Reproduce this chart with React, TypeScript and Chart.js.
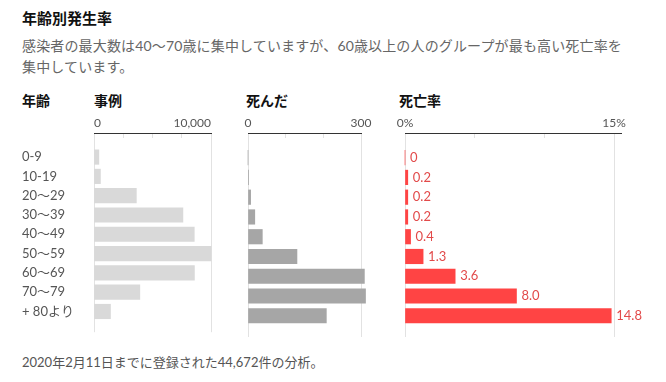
import React, { useEffect, useRef } from 'react';
import { Chart, registerables } from 'chart.js';

Chart.register(...registerables);

// ---- data ----
const ageGroups = ['0-9', '10-19', '20～29', '30～39', '40～49', '50～59', '60～69', '70～79', '+ 80より'];
const cases = [416, 549, 3619, 7600, 8571, 10008, 8583, 3918, 1408];
const deaths = [0, 1, 7, 18, 38, 130, 309, 312, 208];
const fatality = [0, 0.2, 0.2, 0.2, 0.4, 1.3, 3.6, 8.0, 14.8];

const casesTicks = [0, 2500, 5000, 7500, 10000];
const casesTickLabels = ['0', '', '', '', '10,000'];
const deathsTicks = [0, 100, 200, 300];
const deathsTickLabels = ['0', '', '', '300'];
const fatalityTicks = [0, 5, 10, 15];
const fatalityTickLabels = ['0%', '', '', '15%'];

const FONT = "Lato, 'Noto Sans CJK JP', sans-serif";
const CJK = "'Noto Sans CJK JP', Lato, sans-serif";

type PanelOpts = {
  values: number[];
  ticks: number[];
  tickLabels: string[];
  max: number;
  color: string;
  showY: boolean;
  align: 'center' | 'inner' | 'start' | 'end';
  padding: { left: number; right: number; top: number; bottom: number };
  valueLabels?: boolean;
};

const valueLabelPlugin = {
  id: 'valueLabels',
  afterDatasetsDraw(chart: any) {
    const meta = chart.getDatasetMeta(0);
    const ctx = chart.ctx;
    ctx.save();
    ctx.font = `13px ${FONT}`;
    ctx.fillStyle = '#e24a4a';
    ctx.textBaseline = 'middle';
    ctx.textAlign = 'left';
    meta.data.forEach((el: any, i: number) => {
      const v = fatality[i];
      ctx.fillText(v === 0 ? '0' : v.toFixed(1), el.x + 5, el.y);
    });
    ctx.restore();
  },
};

function makeConfig(o: PanelOpts): any {
  const last = o.ticks.length - 1;
  return {
    type: 'bar',
    data: {
      labels: ageGroups,
      datasets: [
        {
          data: o.values.map((v, i) => ({ x: v, y: i })),
          backgroundColor: o.color,
          borderWidth: 0,
          barThickness: 14.5,
          clip: false,
        },
      ],
    },
    options: {
      indexAxis: 'y',
      responsive: false,
      animation: false,
      events: [],
      layout: { padding: o.padding },
      plugins: { legend: { display: false }, tooltip: { enabled: false }, title: { display: false } },
      scales: {
        x: {
          type: 'linear',
          position: 'top',
          min: 0,
          max: o.max,
          afterBuildTicks: (s: any) => {
            s.ticks = o.ticks.map((v) => ({ value: v }));
          },
          afterFit: (s: any) => {
            s.height = 23;
          },
          grid: {
            display: true,
            drawOnChartArea: true,
            drawTicks: true,
            tickLength: -5,
            lineWidth: 1,
            color: (c: any) => (c.index === 0 || c.index === last ? '#e2e2e2' : 'rgba(0,0,0,0)'),
            tickColor: (c: any) => (c.index === 0 || c.index === last ? 'rgba(0,0,0,0)' : '#e2e2e2'),
          },
          border: { display: true, color: '#333333', width: 1 },
          ticks: {
            autoSkip: false,
            maxRotation: 0,
            minRotation: 0,
            align: o.align,
            padding: 8,
            color: '#555555',
            font: { family: FONT, size: 12 },
            callback: (_v: any, i: number) => o.tickLabels[i],
          },
        },
        y: {
          type: 'linear',
          reverse: true,
          min: -0.674,
          max: 8.5,
          display: o.showY,
          afterBuildTicks: (s: any) => {
            s.ticks = ageGroups.map((_, i) => ({ value: i }));
          },
          afterFit: (s: any) => {
            if (o.showY) s.width = 72;
          },
          grid: { display: false },
          border: { display: false },
          ticks: {
            autoSkip: false,
            crossAlign: 'far',
            padding: 0,
            color: '#555555',
            font: { family: FONT, size: 13 },
            callback: (v: any) => ageGroups[v],
          },
        },
      },
    },
    plugins: o.valueLabels ? [valueLabelPlugin] : [],
  };
}

function Panel({ left, width, opts }: { left: number; width: number; opts: PanelOpts }) {
  const ref = useRef<HTMLCanvasElement>(null);
  useEffect(() => {
    const chart = new Chart(ref.current as HTMLCanvasElement, makeConfig(opts));
    return () => chart.destroy();
  }, []);
  return (
    <canvas
      ref={ref}
      width={width}
      height={230}
      style={{ position: 'absolute', left, top: 110, width, height: 230, display: 'block' }}
    />
  );
}

const headerStyle: React.CSSProperties = {
  position: 'absolute',
  top: 91,
  lineHeight: '18px',
  fontSize: 14,
  fontWeight: 700,
  color: '#111',
  fontFamily: CJK,
  whiteSpace: 'nowrap',
};

export default function App() {
  return (
    <div style={{ position: 'absolute', left: 0, top: 0, width: 666, height: 382, background: '#fff', overflow: 'hidden' }}>
      <div
        style={{
          position: 'absolute',
          left: 22,
          top: 8,
          lineHeight: '20px',
          fontSize: 15,
          fontWeight: 700,
          color: '#111',
          fontFamily: CJK,
          whiteSpace: 'nowrap',
        }}
      >
        年齢別発生率
      </div>
      <div
        style={{
          position: 'absolute',
          left: 22,
          top: 34.5,
          lineHeight: '21px',
          fontSize: 14,
          color: '#666',
          fontFamily: FONT,
          whiteSpace: 'nowrap',
          letterSpacing: 0.15,
        }}
      >
        感染者の最大数は40～70歳に集中していますが、60歳以上の人のグループが最も高い死亡率を
        <br />
        集中しています。
      </div>
      <div style={{ ...headerStyle, left: 22 }}>年齢</div>
      <div style={{ ...headerStyle, left: 94 }}>事例</div>
      <div style={{ ...headerStyle, left: 246 }}>死んだ</div>
      <div style={{ ...headerStyle, left: 399 }}>死亡率</div>

      <Panel
        left={22}
        width={203}
        opts={{
          values: cases,
          ticks: casesTicks,
          tickLabels: casesTickLabels,
          max: 10000,
          color: '#d9d9d9',
          showY: true,
          align: 'inner',
          padding: { left: 0, right: 14, top: 0, bottom: 3 },
        }}
      />
      <Panel
        left={228}
        width={159}
        opts={{
          values: deaths,
          ticks: deathsTicks,
          tickLabels: deathsTickLabels,
          max: 300,
          color: '#a6a6a6',
          showY: false,
          align: 'center',
          padding: { left: 20, right: 26, top: 0, bottom: 3 },
        }}
      />
      <Panel
        left={385}
        width={276}
        opts={{
          values: fatality,
          ticks: fatalityTicks,
          tickLabels: fatalityTickLabels,
          max: 15.5,
          color: '#ff4444',
          showY: false,
          align: 'center',
          padding: { left: 20, right: 40, top: 0, bottom: 3 },
          valueLabels: true,
        }}
      />

      <div
        style={{
          position: 'absolute',
          left: 22,
          top: 353,
          lineHeight: '18px',
          fontSize: 13,
          color: '#555',
          fontFamily: FONT,
          whiteSpace: 'nowrap',
        }}
      >
        2020年2月11日までに登録された44,672件の分析。
      </div>
    </div>
  );
}
